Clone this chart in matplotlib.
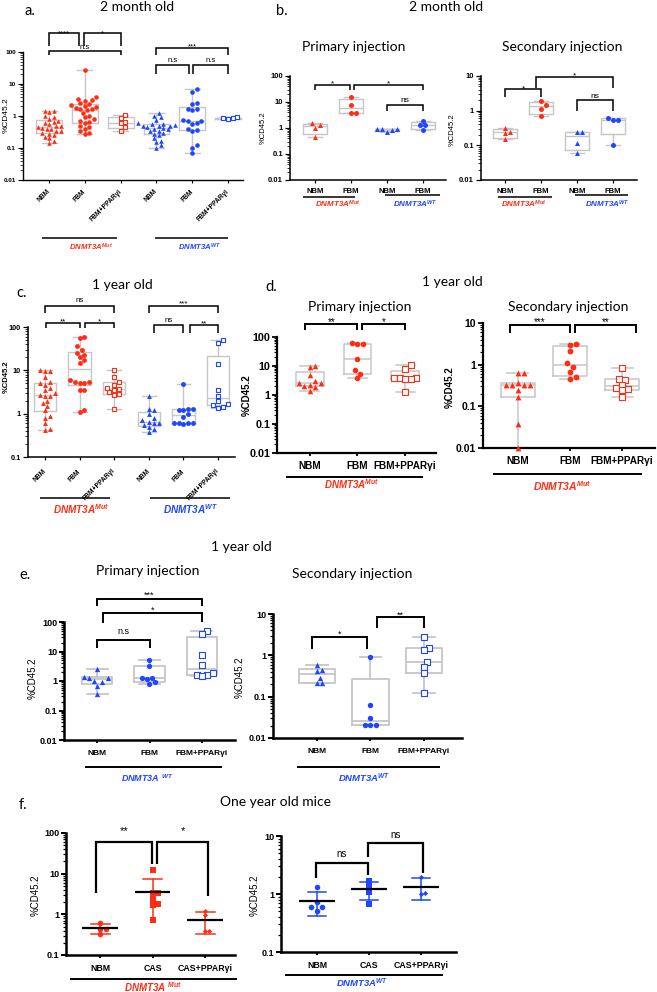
import numpy as np
import matplotlib
matplotlib.use('Agg')
import matplotlib.pyplot as plt
from matplotlib.transforms import Affine2D, blended_transform_factory
from matplotlib.lines import Line2D
from matplotlib.ticker import LogLocator, NullFormatter

plt.rcParams['font.family'] = ['Liberation Sans', 'DejaVu Sans']
plt.rcParams['mathtext.fontset'] = 'custom'
plt.rcParams['mathtext.rm'] = 'Liberation Sans'
plt.rcParams['mathtext.it'] = 'Liberation Sans:italic'
plt.rcParams['mathtext.bf'] = 'Liberation Sans:bold'
plt.rcParams['mathtext.bfit'] = 'Liberation Sans:italic:bold'

W, H = 657, 992
RED = '#FF2D14'
BLUE = '#1E46FF'
GREY = '#C6C6C6'
TFONT = ['Lato', 'DejaVu Sans']

# ---------------- data ----------------
six_cats = ['NBM', 'FBM', 'FBM+PPARγi', 'NBM', 'FBM', 'FBM+PPARγi']
four_cats = ['NBM', 'FBM', 'NBM', 'FBM']
three_cats = ['NBM', 'FBM', 'FBM+PPARγi']
cas_cats = ['NBM', 'CAS', 'CAS+PPARγi']
MUT = r'$\mathbfit{DNMT3A}^{\mathbfit{Mut}}$'
WT = r'$\mathbfit{DNMT3A}^{\mathbfit{WT}}$'
MUT_SP = r'$\mathbfit{DNMT3A}\ {}^{\mathbfit{Mut}}$'
WT_SP = r'$\mathbfit{DNMT3A}\ {}^{\mathbfit{WT}}$'

# a. 2 month old
a_mut_nbm = [1.45, 1.4, 1.3, 1.0, 0.9, 0.8, 0.7, 0.65, 0.6, 0.55, 0.5, 0.48, 0.45,
             0.42, 0.4, 0.38, 0.35, 0.33, 0.3, 0.28, 0.25, 0.22, 0.2, 0.17, 0.14]
a_mut_fbm = [28, 3.8, 3.5, 3.2, 3.0, 2.6, 2.4, 2.2, 2.0, 1.9, 1.8, 1.7, 1.6, 1.5,
             1.2, 1.0, 0.9, 0.8, 0.7, 0.65, 0.6, 0.5, 0.45, 0.4, 0.35, 0.3, 0.28]
a_mut_ppar = [1.1, 0.85, 0.65, 0.6, 0.45, 0.35]
a_wt_nbm = [1.2, 1.0, 0.9, 0.75, 0.6, 0.58, 0.55, 0.52, 0.5, 0.5, 0.48, 0.45, 0.42,
            0.4, 0.38, 0.35, 0.33, 0.3, 0.28, 0.25, 0.2, 0.17, 0.15, 0.12, 0.1]
a_wt_fbm = [7, 5.5, 2.5, 2.4, 1.7, 1.6, 1.5, 0.75, 0.7, 0.7, 0.6, 0.55, 0.4, 0.37,
            0.35, 0.12, 0.1, 0.07]
a_wt_ppar = [0.85, 0.9, 0.82, 0.88]

# b. 2 month old, primary / secondary
b1_mut_nbm = [1.5, 1.3, 1.0, 0.45]
b1_mut_fbm = [15, 7.9, 3.8, 3.8]
b1_wt_nbm = [0.95, 0.9, 0.9, 0.85, 0.7]
b1_wt_fbm = [1.9, 1.3, 1.25, 0.85]
b2_mut_nbm = [0.32, 0.25, 0.22, 0.15]
b2_mut_fbm = [1.85, 1.5, 1.15, 0.72]
b2_wt_nbm = [0.24, 0.24, 0.12, 0.06]
b2_wt_fbm = [0.63, 0.55, 0.55, 0.1]

# c. 1 year old
c_mut_nbm = [10, 9.5, 9.8, 7, 5.5, 5, 4.5, 4, 3.5, 3, 2.7, 2.6, 2.5, 2, 1.8, 1.5,
             1.2, 0.9, 0.8, 0.6, 0.45, 0.42]
c_mut_fbm = [58, 55, 37, 30, 25, 22, 20, 17, 15, 6, 5.5, 5.3, 5, 5, 3.5, 3.5, 1.2, 1.1]
c_mut_ppar = [10, 7, 5.5, 4.5, 4, 3.8, 3.5, 3.2, 2.8, 2.7, 1.25]
c_wt_nbm = [2.6, 1.3, 1.2, 1.0, 0.8, 0.7, 0.65, 0.6, 0.6, 0.55, 0.5, 0.45, 0.37]
c_wt_fbm = [4.8, 1.3, 1.3, 1.2, 1.2, 1.0, 0.85, 0.6, 0.6, 0.6, 0.58, 0.6]
c_wt_ppar = [50, 42, 14, 3.5, 2.6, 2.0, 1.7, 1.6, 1.4, 1.35]

# d. 1 year old, DNMT3A Mut
d1_nbm = [9.8, 9.5, 5, 3, 2.5, 2.5, 2.3, 2.0, 1.9, 1.4]
d1_fbm = [60, 58, 56, 17, 7, 5.5, 3.8]
d1_ppar = [10.8, 7.7, 4.0, 3.9, 3.8, 3.6, 3.5, 1.3]
d2_nbm = [0.63, 0.62, 0.37, 0.33, 0.33, 0.32, 0.32, 0.25, 0.17, 0.038, 0.01]
d2_fbm = [3.1, 3.0, 2.1, 1.1, 0.88, 0.67, 0.5, 0.45]
d2_ppar = [0.83, 0.45, 0.44, 0.33, 0.27, 0.26, 0.24, 0.17]

# e. 1 year old, DNMT3A WT
e1_nbm = [2.6, 1.33, 1.3, 1.27, 1.0, 0.95, 0.7, 0.36]
e1_fbm = [5.1, 3.2, 1.27, 1.25, 1.2, 0.9, 0.81]
e1_ppar = [50, 40, 7.5, 3.4, 1.9, 1.6, 1.6, 1.45]
e2_nbm = [0.6, 0.43, 0.42, 0.29, 0.22, 0.22]
e2_fbm = [0.9, 0.062, 0.031, 0.021, 0.021, 0.021]
e2_ppar = [2.8, 1.5, 1.37, 0.69, 0.52, 0.38, 0.12]

# f. one year old mice
f_mut_nbm = [0.61, 0.44, 0.44, 0.32]
f_mut_cas = [12, 3.4, 3.3, 2.4, 1.8, 1.7, 0.72]
f_mut_ppar = [1.2, 0.95, 0.4, 0.4]
f_wt_nbm = [1.3, 0.72, 0.6, 0.6, 0.5]
f_wt_cas = [1.68, 1.37, 1.1, 0.67]
f_wt_ppar = [1.94, 1.03, 1.0]

# ---------------- helpers ----------------
fig = plt.figure(figsize=(W / 100, H / 100), dpi=100)
PX = Affine2D().scale(1, -1).translate(0, H)


def ftext(x, y, s, **kw):
    kw.setdefault('ha', 'center')
    kw.setdefault('va', 'center')
    fig.text(x, y, s, transform=PX, **kw)


def fline(x1, x2, y, lw=1.0):
    fig.add_artist(Line2D([x1, x2], [y, y], transform=PX, color='black', lw=lw,
                          solid_capstyle='butt'))


def make_ax(box, ylim, xlim, cats, slw, yfs, xfs, rot=False, xpad=3.0):
    l, r, t, b = box
    ax = fig.add_axes([l / W, 1 - b / H, (r - l) / W, (b - t) / H])
    ax.set_yscale('log')
    ax.set_ylim(*ylim)
    ax.set_xlim(*xlim)
    ax.patch.set_visible(False)
    for s in ['top', 'right']:
        ax.spines[s].set_visible(False)
    for s in ['left', 'bottom']:
        ax.spines[s].set_linewidth(slw)
    lo, hi = np.log10(ylim)
    decs = 10.0 ** np.arange(round(lo), round(hi) + 1)
    ax.set_yticks(decs, labels=[f'{d:g}' for d in decs], fontweight='bold', fontsize=yfs)
    ax.yaxis.set_minor_locator(LogLocator(base=10, subs=np.arange(2, 10), numticks=50))
    ax.yaxis.set_minor_formatter(NullFormatter())
    ax.tick_params(axis='y', which='major', length=3.5, width=slw * 0.8, pad=1.5)
    ax.tick_params(axis='y', which='minor', length=2, width=slw * 0.5)
    if rot:
        ax.set_xticks(range(len(cats)), labels=cats, rotation=45, ha='right', va='center',
                      rotation_mode='anchor', fontweight='bold', fontsize=xfs)
    else:
        ax.set_xticks(range(len(cats)), labels=cats, fontweight='bold', fontsize=xfs)
    ax.tick_params(axis='x', length=2.5, width=slw * 0.8, pad=xpad)
    ax.set_ylim(*ylim)
    return ax


def swarm_x(ax, x0, vals, d):
    vals = np.asarray(vals, float)
    pts = ax.transData.transform(np.column_stack([np.full(len(vals), x0), vals]))
    xc = pts[0, 0]
    ys = pts[:, 1]
    order = np.argsort(ys, kind='stable')
    cands = [0.0]
    for k in range(1, 40):
        cands += [k * d / 2, -k * d / 2]
    placed = []
    offs = np.zeros(len(vals))
    for i in order:
        for c in cands:
            if all((c - px) ** 2 + (ys[i] - py) ** 2 >= (0.97 * d) ** 2 for px, py in placed):
                offs[i] = c
                placed.append((c, ys[i]))
                break
    xs = ax.transData.inverted().transform(np.column_stack([xc + offs, ys]))[:, 0]
    return xs


def points(ax, pos, vals, marker, color, hollow, ms):
    xs = swarm_x(ax, pos, vals, ms * 100 / 72 * 1.0)
    if hollow:
        ax.scatter(xs, vals, marker=marker, s=ms ** 2, facecolors='white',
                   edgecolors=color, linewidths=0.8, zorder=4, clip_on=False)
    else:
        ax.scatter(xs, vals, marker=marker, s=ms ** 2, color=color, linewidths=0,
                   zorder=4, clip_on=False)


def box(ax, pos, vals, bw, cw, lw):
    v = np.asarray(vals, float)
    q1, med, q3 = np.percentile(v, [25, 50, 75], method='weibull')
    st = dict(med=med, q1=q1, q3=q3, whislo=v.min(), whishi=v.max(), fliers=[])
    pr = dict(color=GREY, lw=lw)
    ax.bxp([st], positions=[pos], widths=bw, capwidths=cw, showfliers=False,
           boxprops=pr, whiskerprops=pr, capprops=pr, medianprops=pr,
           manage_ticks=False, zorder=2)


def box_panel(ax, groups, bw, cw, lw, ms):
    for i, (vals, mk, col, hol) in enumerate(groups):
        box(ax, i, vals, bw, cw, lw)
        points(ax, i, vals, mk, col, hol, ms)


def mean_panel(ax, groups, ms, col):
    for i, (vals, mk, m_s) in enumerate(groups):
        v = np.asarray(vals, float)
        m = v.mean()
        sd = v.std(ddof=1)
        ax.plot([i - 0.34, i + 0.34], [m, m], color='black', lw=1.6, zorder=5,
                solid_capstyle='butt')
        ax.plot([i, i], [m, m + sd], color=col, lw=1.1, zorder=3)
        ax.plot([i - 0.18, i + 0.18], [m + sd, m + sd], color=col, lw=1.1, zorder=3)
        if m - sd > 0:
            ax.plot([i, i], [m, m - sd], color=col, lw=1.1, zorder=3)
            ax.plot([i - 0.18, i + 0.18], [m - sd, m - sd], color=col, lw=1.1, zorder=3)
        else:
            ax.plot([i, i], [m, v.min()], color=col, lw=1.1, zorder=3)
        points(ax, i, vals, mk, col, False, m_s)


def bracket(ax, x1, x2, yb, yl1, yl2, text, ty, fs, lw):
    tr = blended_transform_factory(ax.transData, PX)
    ax.plot([x1, x1, x2, x2], [yl1, yb, yb, yl2], transform=tr, color='black', lw=lw,
            clip_on=False, solid_joinstyle='miter', solid_capstyle='butt')
    fpx = fs * 100 / 72
    k = 0.6 if '*' in text else 0.27
    ax.text((x1 + x2) / 2, ty + k * fpx, text, transform=tr, ha='center', va='baseline',
            fontsize=fs, clip_on=False)


def ylab(x, y, fs, weight='normal'):
    ftext(x, y, '%CD45.2', rotation=90, fontsize=fs, fontweight=weight)


# ---------------- panel a ----------------
ax = make_ax((23, 243, 52, 180), (0.01, 100), (-0.73, 5.42), six_cats, 1.0, 4.6, 4.8,
             rot=True, xpad=5)
box_panel(ax, [(a_mut_nbm, '^', RED, False), (a_mut_fbm, 'o', RED, False),
               (a_mut_ppar, 's', RED, True), (a_wt_nbm, '^', BLUE, False),
               (a_wt_fbm, 'o', BLUE, False), (a_wt_ppar, 's', BLUE, True)],
          0.72, 0.42, 1.0, 3.3)
for br in [(0, 0.83, 33, 46, 46, '****', 31), (0.97, 2, 33, 46, 46, '*', 31),
           (0, 2, 51, 55, 55, 'n.s', 47), (3, 5, 48, 55, 55, '***', 44),
           (3, 3.92, 65, 74, 74, 'n.s', 60), (4.02, 5, 65, 74, 74, 'n.s', 60)]:
    bracket(ax, *br, fs=5.5, lw=1.1)
ylab(6, 115, 6)
fline(42, 117, 238, 1.1)
fline(155, 228, 238, 1.1)
ftext(91, 247, MUT, fontsize=5.6, color=RED)
ftext(200, 247, WT, fontsize=5.6, color=BLUE)
ftext(30, 11, 'a.', fontsize=10.5, family=TFONT)
ftext(137, 7, '2 month old', fontsize=10, family=TFONT)

# ---------------- panel b ----------------
ax = make_ax((290, 446, 76, 180), (0.01, 100), (-0.69, 3.64), four_cats, 1.1, 5.5, 5.5,
             xpad=3)
box_panel(ax, [(b1_mut_nbm, '^', RED, False), (b1_mut_fbm, 'o', RED, False),
               (b1_wt_nbm, '^', BLUE, False), (b1_wt_fbm, 'o', BLUE, False)],
          0.65, 0.4, 1.0, 3.6)
for br in [(0, 0.97, 85, 90, 90, '*', 80), (1.1, 3, 85, 90, 90, '*', 80),
           (2, 3, 105, 111, 111, 'ns', 100)]:
    bracket(ax, *br, fs=6, lw=1.1)
ylab(263, 128, 5.5)

ax = make_ax((481, 637, 76, 180), (0.01, 10), (-0.67, 3.67), four_cats, 1.1, 5.5, 5.5,
             xpad=3)
box_panel(ax, [(b2_mut_nbm, '^', RED, False), (b2_mut_fbm, 'o', RED, False),
               (b2_wt_nbm, '^', BLUE, False), (b2_wt_fbm, 'o', BLUE, False)],
          0.67, 0.4, 1.0, 3.6)
for br in [(0, 1, 89, 97, 97, '*', 85), (0.85, 3, 77, 88, 88, '*', 72),
           (2, 3, 100, 111, 111, 'ns', 96)]:
    bracket(ax, *br, fs=6, lw=1.1)
ylab(452, 130, 5.5)
fline(303, 355, 197, 1.1)
fline(385, 440, 195, 1.1)
fline(498, 552, 197, 1.1)
fline(575, 628, 195, 1.1)
ftext(338, 204, MUT, fontsize=5.8, color=RED)
ftext(415, 204, WT, fontsize=5.8, color=BLUE)
ftext(524, 204, MUT, fontsize=5.8, color=RED)
ftext(607, 204, WT, fontsize=5.8, color=BLUE)
ftext(282, 11, 'b.', fontsize=10.5, family=TFONT)
ftext(446, 7, '2 month old', fontsize=10, family=TFONT)
ftext(354, 47, 'Primary injection', fontsize=10, family=TFONT)
ftext(562, 47, 'Secondary injection', fontsize=10, family=TFONT)

# ---------------- panel c ----------------
ax = make_ax((28, 235, 327, 457), (0.1, 100), (-0.49, 5.49), six_cats, 1.1, 5.3, 4.8,
             rot=True, xpad=7)
box_panel(ax, [(c_mut_nbm, '^', RED, False), (c_mut_fbm, 'o', RED, False),
               (c_mut_ppar, 's', RED, True), (c_wt_nbm, '^', BLUE, False),
               (c_wt_fbm, 'o', BLUE, False), (c_wt_ppar, 's', BLUE, True)],
          0.65, 0.4, 1.0, 3.5)
for br in [(0, 2, 306, 313, 313, 'ns', 300), (0.03, 1.0, 323, 328, 328, '**', 319),
           (1.15, 2, 323, 328, 328, '*', 319), (3, 5, 306, 313, 313, '***', 301),
           (3.15, 4.0, 325, 333, 333, 'ns', 320), (4.2, 5.0, 325, 333, 333, '**', 321)]:
    bracket(ax, *br, fs=5.8, lw=1.1)
ylab(6, 377, 5.5, 'bold')
fline(40, 110, 498, 1.1)
fline(150, 230, 498, 1.1)
ftext(81, 509, MUT, fontsize=7.2, color=RED)
ftext(191, 509, WT, fontsize=7.2, color=BLUE)
ftext(22, 293, 'c.', fontsize=10.5, family=TFONT)
ftext(122, 285, '1 year old', fontsize=10, family=TFONT)

# ---------------- panel d ----------------
ax = make_ax((277, 436, 337, 453), (0.01, 100), (-0.69, 2.65), three_cats, 1.6, 7.8, 7.2,
             xpad=3)
box_panel(ax, [(d1_nbm, '^', RED, False), (d1_fbm, 'o', RED, False),
               (d1_ppar, 's', RED, True)], 0.58, 0.4, 1.1, 4.0)
for br in [(-0.1, 1.0, 324, 330, 330, '**', 319), (1.1, 2.0, 324, 330, 330, '*', 319)]:
    bracket(ax, *br, fs=7, lw=1.4)
ylab(247, 395, 7, 'bold')

ax = make_ax((483, 655, 323, 448), (0.01, 10), (-0.67, 2.63), three_cats, 1.6, 7.5, 7.2,
             xpad=3)
box_panel(ax, [(d2_nbm, '^', RED, False), (d2_fbm, 'o', RED, False),
               (d2_ppar, 's', RED, True)], 0.64, 0.4, 1.1, 4.2)
for br in [(-0.15, 1.0, 325, 333, 333, '***', 319), (1.1, 2.26, 325, 333, 333, '**', 319)]:
    bracket(ax, *br, fs=7, lw=1.4)
ylab(450, 387, 7, 'bold')
fline(286, 423, 477, 1.4)
fline(493, 642, 474, 1.4)
ftext(352, 484, MUT, fontsize=7, color=RED)
ftext(562, 486, MUT, fontsize=7.5, color=RED)
ftext(271, 287, 'd.', fontsize=10.5, family=TFONT)
ftext(452, 282, '1 year old', fontsize=10, family=TFONT)
ftext(360, 307, 'Primary injection', fontsize=10, family=TFONT)
ftext(568, 307, 'Secondary injection', fontsize=10, family=TFONT)

# ---------------- panel e ----------------
ax = make_ax((64, 235, 622, 740), (0.01, 100), (-0.63, 2.63), three_cats, 1.8, 6.5, 6,
             xpad=5)
box_panel(ax, [(e1_nbm, '^', BLUE, False), (e1_fbm, 'o', BLUE, False),
               (e1_ppar, 's', BLUE, True)], 0.58, 0.4, 1.3, 3.8)
for br in [(0, 2, 599, 606, 606, '***', 592), (0.12, 2.0, 613, 623, 622, '*', 607),
           (0, 1, 640, 648, 648, 'n.s', 632)]:
    bracket(ax, *br, fs=6.5, lw=1.4)
ylab(33, 678, 7)

ax = make_ax((273, 462, 614, 738), (0.01, 10), (-0.82, 2.71), three_cats, 1.8, 6.5, 6,
             xpad=5)
box_panel(ax, [(e2_nbm, '^', BLUE, False), (e2_fbm, 'o', BLUE, False),
               (e2_ppar, 's', BLUE, True)], 0.68, 0.4, 1.3, 3.9)
for br in [(-0.1, 0.93, 637, 649, 649, '*', 631), (1.13, 2.0, 617, 628, 628, '**', 612)]:
    bracket(ax, *br, fs=6.5, lw=1.4)
ylab(240, 677, 7)
fline(85, 222, 767, 1.4)
fline(297, 440, 767, 1.4)
ftext(147, 778, WT_SP, fontsize=6.5, color=BLUE)
ftext(364, 778, WT, fontsize=6.8, color=BLUE)
ftext(25, 575, 'e.', fontsize=10.5, family=TFONT)
ftext(241, 547, '1 year old', fontsize=10, family=TFONT)
ftext(148, 571, 'Primary injection', fontsize=10, family=TFONT)
ftext(352, 574, 'Secondary injection', fontsize=10, family=TFONT)

# ---------------- panel f ----------------
ax = make_ax((66, 235, 833, 955), (0.1, 100), (-0.65, 2.57), cas_cats, 1.8, 6.5, 6.3,
             xpad=4)
mean_panel(ax, [(f_mut_nbm, 'o', 4.0), (f_mut_cas, 's', 3.8), (f_mut_ppar, 'D', 2.6)],
           4.0, RED)
for br in [(-0.08, 0.98, 842, 893, 864, '**', 827), (1.09, 2.06, 842, 864, 896, '*', 827)]:
    bracket(ax, *br, fs=8, lw=1.6)
ylab(36, 895, 7)

ax = make_ax((281, 456, 836, 952), (0.1, 10), (-0.69, 2.67), cas_cats, 1.8, 6.5, 6.3,
             xpad=4)
mean_panel(ax, [(f_wt_nbm, 'o', 4.0), (f_wt_cas, 's', 3.8), (f_wt_ppar, 'D', 2.6)],
           4.0, BLUE)
for br in [(-0.02, 0.98, 863, 878, 875, 'ns', 854), (0.98, 2.04, 843, 857, 873, 'ns', 835)]:
    bracket(ax, *br, fs=7, lw=1.6)
ylab(255, 895, 7)
fline(70, 237, 979, 1.4)
fline(285, 443, 975, 1.4)
ftext(153, 987, MUT_SP, fontsize=7, color=RED)
ftext(362, 983, WT, fontsize=6.8, color=BLUE)
ftext(23, 805, 'f.', fontsize=10.5, family=TFONT)
ftext(276, 802, 'One year old mice', fontsize=10, family=TFONT)

fig.savefig('out.png', dpi=100, facecolor='white')
